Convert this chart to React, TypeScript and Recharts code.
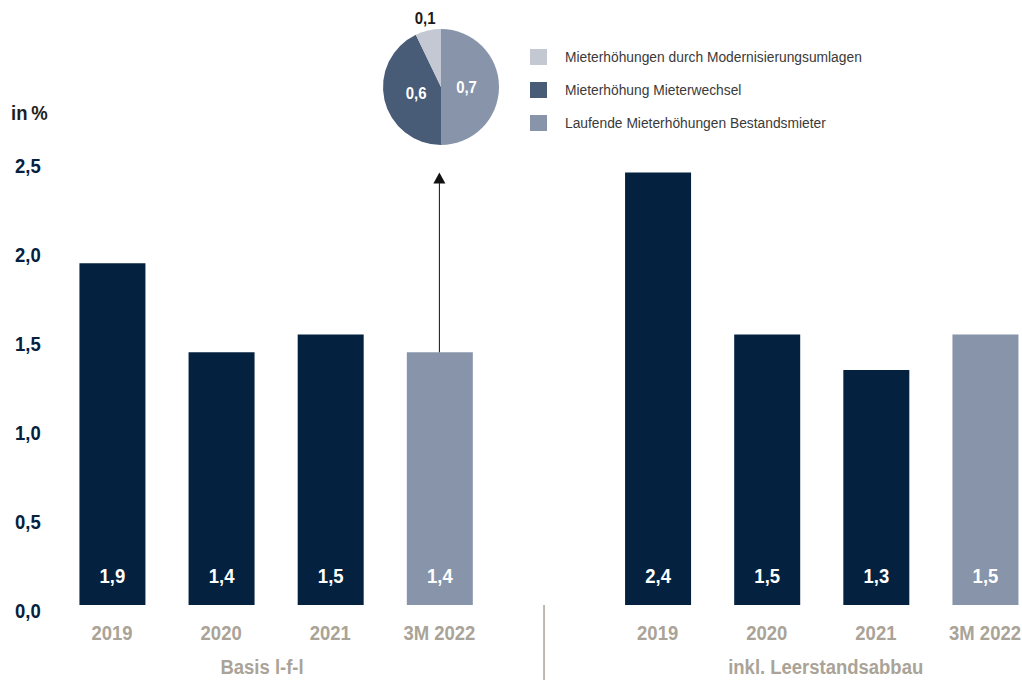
import React from 'react';
import { BarChart, Bar, XAxis, YAxis, Cell, LabelList, ReferenceLine, ReferenceDot, PieChart, Pie } from 'recharts';

const categories = ['2019', '2020', '2021', '3M 2022'];
const basisValues = [1.92, 1.42, 1.52, 1.42];
const basisLabels = ['1,9', '1,4', '1,5', '1,4'];
const leerValues = [2.43, 1.52, 1.32, 1.52];
const leerLabels = ['2,4', '1,5', '1,3', '1,5'];
const groupLabels = ['Basis l-f-l', 'inkl. Leerstandsabbau'];
const yTicks = [0, 0.5, 1, 1.5, 2, 2.5];
const yTickLabels = ['0,0', '0,5', '1,0', '1,5', '2,0', '2,5'];

const pieNames = ['Laufende Mieterhöhungen Bestandsmieter', 'Mieterhöhung Mieterwechsel', 'Mieterhöhungen durch Modernisierungsumlagen'];
const pieValues = [0.7, 0.6, 0.1];
const pieLabels = ['0,7', '0,6', '0,1'];
const legendOrder = [2, 1, 0];
const arrowTop = 2.43;

const NAVY = '#04223f';
const SLATE = '#8794aa';
const PIE_COLORS = ['#8794aa', '#485b77', '#c3c8d2'];
const TAN = '#aaa397';
const CF = "'Liberation Sans', Arial, sans-serif";
const SF = "'Liberation Sans', Arial, sans-serif";
const SQ = 0.88;

const GAP_POS = 4;
const data = [
  ...categories.map((c, i) => ({ pos: i, cat: c, value: basisValues[i], label: basisLabels[i], fill: i === 3 ? SLATE : NAVY })),
  ...categories.map((c, i) => ({ pos: GAP_POS + 1 + i, cat: c, value: leerValues[i], label: leerLabels[i], fill: i === 3 ? SLATE : NAVY })),
];
const xTicks = data.map(d => d.pos);
const DIVIDER = 3.959;
const groupTicks = [1.375, DIVIDER, 6.54];
const X_DOMAIN: [number, number] = [-0.4765, 8.3206];

const CText = (p: any) => {
  const { x, y, anchor, fill, size, children, baseline } = p;
  return (
    <text
      transform={`translate(${x} ${y}) scale(${SQ} 1)`}
      x={0}
      y={0}
      textAnchor={anchor}
      dominantBaseline={baseline}
      fill={fill}
      fontFamily={CF}
      fontWeight={700}
      fontSize={size}
    >
      {children}
    </text>
  );
};

const YearTick = (props: any) => {
  const { x, y, payload } = props;
  const d = data.find(r => r.pos === payload.value);
  return (
    <CText x={x} y={y + 27} anchor="middle" fill={TAN} size={21}>
      {d ? d.cat : ''}
    </CText>
  );
};

const GroupTick = (props: any) => {
  const { x, y, payload } = props;
  if (payload.value === DIVIDER) {
    return <line x1={x} x2={x} y1={y - 48} y2={y + 40} stroke={TAN} strokeWidth={1.5} />;
  }
  const idx = payload.value < GAP_POS ? 0 : 1;
  return (
    <CText x={x} y={y + 21} anchor="middle" fill={TAN} size={21}>
      {groupLabels[idx]}
    </CText>
  );
};

const YTick = (props: any) => {
  const { y, payload } = props;
  const i = yTicks.indexOf(payload.value);
  return (
    <CText x={15} y={y + 12.5} anchor="start" fill={NAVY} size={21}>
      {yTickLabels[i]}
    </CText>
  );
};

const BarValue = (props: any) => {
  const { x, y, width, height, index } = props;
  return (
    <CText x={x + width / 2} y={y + height - 22} anchor="middle" fill="#ffffff" size={21}>
      {data[index].label}
    </CText>
  );
};

const ArrowHead = (props: any) => {
  const { cx, cy } = props;
  return <polygon points={`${cx},${cy} ${cx - 6},${cy + 11} ${cx + 6},${cy + 11}`} fill="#111" />;
};

const RADIAN = Math.PI / 180;
const PieLabel = (props: any) => {
  const { cx, cy, midAngle, outerRadius, index } = props;
  const outside = index === 2;
  const r = outside ? outerRadius + 13 : outerRadius * 0.44;
  const x = cx + r * Math.cos(-midAngle * RADIAN);
  const y = cy + r * Math.sin(-midAngle * RADIAN);
  return (
    <CText x={x} y={y} anchor="middle" baseline="central" fill={outside ? '#1a1a1a' : '#ffffff'} size={17}>
      {pieLabels[index]}
    </CText>
  );
};

const pieData = pieNames.map((n, i) => ({ name: n, value: pieValues[i] }));

export default function App() {
  return (
    <div style={{ position: 'absolute', left: 0, top: 0, width: 1022, height: 680, background: '#fff' }}>
      <div style={{ position: 'absolute', left: 11, top: 100, fontFamily: CF, fontWeight: 700, fontSize: 21, color: '#1e1e1e', lineHeight: '26px', transform: `scaleX(${SQ})`, transformOrigin: 'left center', whiteSpace: 'nowrap' }}>
        in{'\u2009'}%
      </div>
      <BarChart width={1022} height={680} data={data} margin={{ top: 160, right: 2, left: 0, bottom: 0 }}>
        <XAxis dataKey="pos" type="number" domain={X_DOMAIN} ticks={xTicks} interval={0} axisLine={false} tickLine={false} tick={<YearTick />} height={40} />
        <XAxis xAxisId="g" dataKey="pos" type="number" domain={X_DOMAIN} ticks={groupTicks} interval={0} axisLine={false} tickLine={false} tick={<GroupTick />} height={35} />
        <YAxis type="number" domain={[0, 2.5]} ticks={yTicks} interval={0} axisLine={false} tickLine={false} tick={<YTick />} width={60} />
        <Bar dataKey="value" barSize={66} isAnimationActive={false}>
          {data.map((d, i) => (
            <Cell key={i} fill={d.fill} />
          ))}
          <LabelList dataKey="label" content={<BarValue />} />
        </Bar>
        <ReferenceLine segment={[{ x: 3, y: basisValues[3] }, { x: 3, y: arrowTop - 0.06 }]} stroke="#111" strokeWidth={1} ifOverflow="visible" />
        <ReferenceDot x={3} y={arrowTop} r={6} shape={<ArrowHead />} ifOverflow="visible" />
      </BarChart>
      <div style={{ position: 'absolute', left: 340.5, top: 0 }}>
        <PieChart width={200} height={180} margin={{ top: 0, right: 0, bottom: 0, left: 0 }}>
          <Pie data={pieData} dataKey="value" cx={100} cy={87} outerRadius={58} startAngle={90} endAngle={-270} stroke="none" label={<PieLabel />} labelLine={false} isAnimationActive={false}>
            {pieData.map((d, i) => (
              <Cell key={i} fill={PIE_COLORS[i]} />
            ))}
          </Pie>
        </PieChart>
      </div>
      {legendOrder.map((pi, row) => (
        <div key={pi} style={{ position: 'absolute', left: 530, top: 49 + row * 33, height: 16, display: 'flex', alignItems: 'center' }}>
          <div style={{ width: 17, height: 16, background: PIE_COLORS[pi] }} />
          <div style={{ marginLeft: 18, fontFamily: SF, fontSize: 13.8, color: '#3a3a3a', whiteSpace: 'nowrap' }}>{pieNames[pi]}</div>
        </div>
      ))}
    </div>
  );
}
